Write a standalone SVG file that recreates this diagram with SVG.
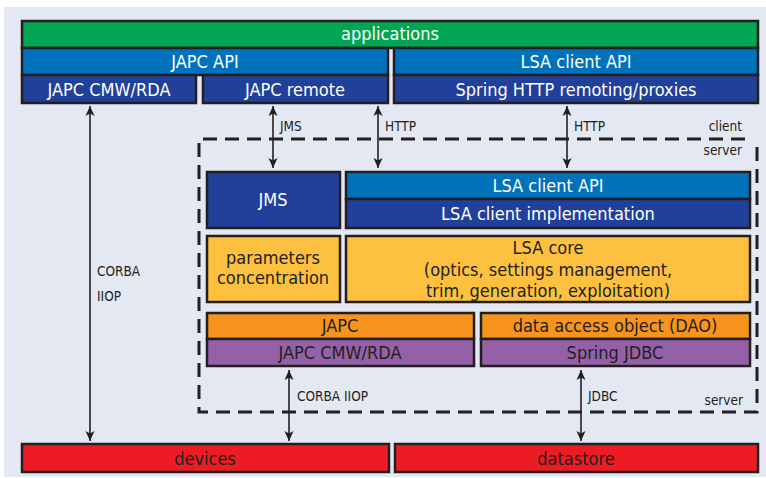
<svg xmlns="http://www.w3.org/2000/svg" width="766" height="478" viewBox="0 0 766 478">
<defs>
<style>
.b{stroke:#231f20;stroke-width:2.5}
.t{font-family:"Liberation Sans Narrow","DejaVu Sans Condensed","Liberation Sans",sans-serif;font-size:18px;text-anchor:middle}
.w{fill:#ffffff}
.d{fill:#231f20}
.s{font-family:"Liberation Sans Narrow","DejaVu Sans Condensed","Liberation Sans",sans-serif;font-size:13.5px;fill:#231f20}
.c{stroke:#231f20;stroke-width:1.6;fill:none;marker-start:url(#ah);marker-end:url(#ah)}
.g{fill:#00a651}.bl{fill:#0072bc}.nv{fill:#21409a}.y{fill:#fdc13f}.o{fill:#f7941d}.p{fill:#9461a8}.r{fill:#ed1c24}
</style>
<marker id="ah" viewBox="0 0 10 10" refX="10" refY="5" markerWidth="10" markerHeight="10" markerUnits="userSpaceOnUse" orient="auto-start-reverse">
<path d="M0,0.5 L10,5 L0,9.5 L2.5,5 Z" fill="#231f20"/>
</marker>
</defs>
<rect x="4" y="7" width="762" height="470" fill="#e3e8f3"/>

<g id="boundary">
<path d="M745,139 H199 V412 H757 V142" fill="none" stroke="#231f20" stroke-width="3" stroke-dasharray="14 8"/>
<text class="s" x="742" y="131" text-anchor="end">client</text>
<text class="s" x="742" y="155" text-anchor="end">server</text>
<text class="s" x="743" y="405" text-anchor="end">server</text>
</g>

<g id="applications"><rect class="b g" x="22" y="21" width="736" height="27"/><text class="t w" x="390" y="40">applications</text></g>
<g id="japc-api"><rect class="b bl" x="22" y="48" width="366" height="27"/><text class="t w" x="205" y="68">JAPC API</text></g>
<g id="lsa-client-api-top"><rect class="b bl" x="394" y="48" width="364" height="27"/><text class="t w" x="576" y="68">LSA client API</text></g>
<g id="japc-cmw-rda-top"><rect class="b nv" x="22" y="75" width="174" height="28"/><text class="t w" x="109" y="96">JAPC CMW/RDA</text></g>
<g id="japc-remote"><rect class="b nv" x="203" y="75" width="185" height="28"/><text class="t w" x="295" y="96">JAPC remote</text></g>
<g id="spring-http"><rect class="b nv" x="394" y="75" width="364" height="28"/><text class="t w" x="576" y="96">Spring HTTP remoting/proxies</text></g>

<g id="jms"><rect class="b nv" x="207" y="172" width="133" height="56"/><text class="t w" x="273" y="206">JMS</text></g>
<g id="lsa-client-api"><rect class="b bl" x="346" y="172" width="404" height="27"/><text class="t w" x="548" y="192">LSA client API</text></g>
<g id="lsa-client-impl"><rect class="b nv" x="346" y="199" width="404" height="29"/><text class="t w" x="548" y="220">LSA client implementation</text></g>
<g id="parameters-concentration"><rect class="b y" x="207" y="236" width="133" height="66"/><text class="t d" x="273" y="264">parameters</text><text class="t d" x="273" y="284">concentration</text></g>
<g id="lsa-core"><rect class="b y" x="346" y="236" width="404" height="66"/><text class="t d" x="548" y="254">LSA core</text><text class="t d" x="548" y="276">(optics, settings management,</text><text class="t d" x="548" y="297">trim, generation, exploitation)</text></g>
<g id="japc"><rect class="b o" x="207" y="313" width="267" height="26"/><text class="t d" x="340" y="332">JAPC</text></g>
<g id="japc-cmw-rda"><rect class="b p" x="207" y="339" width="267" height="27"/><text class="t d" x="340" y="359">JAPC CMW/RDA</text></g>
<g id="dao"><rect class="b o" x="481" y="313" width="269" height="26"/><text class="t d" x="615" y="332">data access object (DAO)</text></g>
<g id="spring-jdbc"><rect class="b p" x="481" y="339" width="269" height="27"/><text class="t d" x="615" y="359">Spring JDBC</text></g>
<g id="devices"><rect class="b r" x="22" y="444" width="367" height="28"/><text class="t d" x="205" y="465">devices</text></g>
<g id="datastore"><rect class="b r" x="395" y="444" width="363" height="28"/><text class="t d" x="576" y="465">datastore</text></g>

<g id="connectors">
<line class="c" x1="90" y1="106" x2="90" y2="441"/>
<text class="s" x="97" y="276">CORBA</text><text class="s" x="97" y="301">IIOP</text>
<line class="c" x1="273" y1="106" x2="273" y2="168"/>
<text class="s" x="280" y="131">JMS</text>
<line class="c" x1="378" y1="106" x2="378" y2="168"/>
<text class="s" x="385" y="131">HTTP</text>
<line class="c" x1="567" y1="106" x2="567" y2="168"/>
<text class="s" x="574" y="131">HTTP</text>
<line class="c" x1="289" y1="370" x2="289" y2="441"/>
<text class="s" x="297" y="401">CORBA IIOP</text>
<line class="c" x1="581" y1="370" x2="581" y2="441"/>
<text class="s" x="588" y="401">JDBC</text>
</g>
</svg>
